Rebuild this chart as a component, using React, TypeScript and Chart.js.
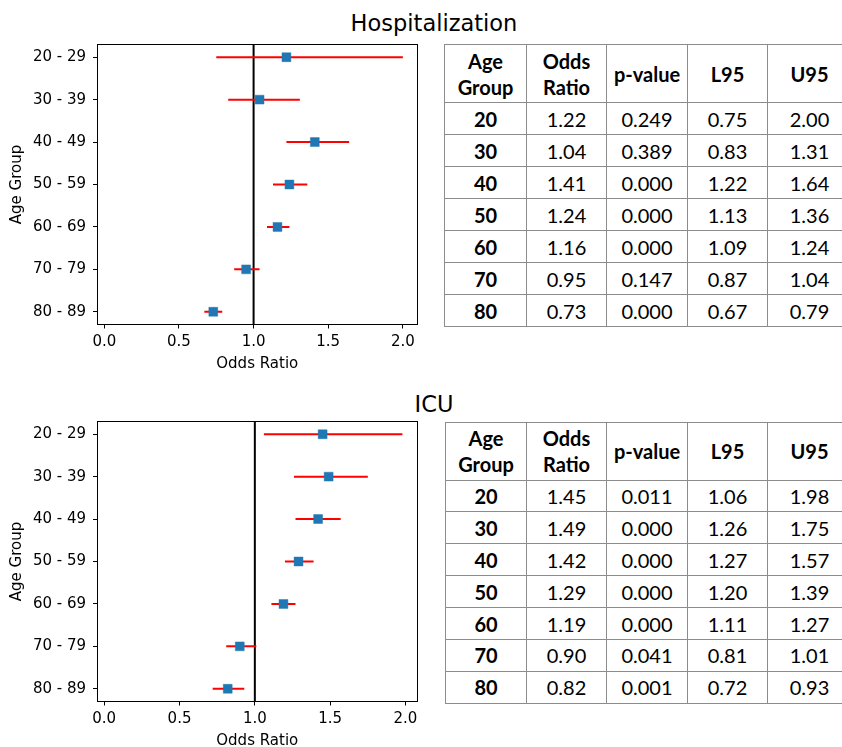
import React, { useEffect, useRef } from 'react';
import { Chart, registerables } from 'chart.js';

Chart.register(...registerables);

// ---- data ----
const ageLabels = ['20 - 29', '30 - 39', '40 - 49', '50 - 59', '60 - 69', '70 - 79', '80 - 89'];
const tableGroups = ['20', '30', '40', '50', '60', '70', '80'];
const tableHeaders = [['Age', 'Group'], ['Odds', 'Ratio'], ['p-value'], ['L95'], ['U95']];
const xTicks = [0, 0.5, 1.0, 1.5, 2.0];
const referenceOR = 1;

const hospOR = [1.22, 1.04, 1.41, 1.24, 1.16, 0.95, 0.73];
const hospP = [0.249, 0.389, 0.0, 0.0, 0.0, 0.147, 0.0];
const hospL95 = [0.75, 0.83, 1.22, 1.13, 1.09, 0.87, 0.67];
const hospU95 = [2.0, 1.31, 1.64, 1.36, 1.24, 1.04, 0.79];

const icuOR = [1.45, 1.49, 1.42, 1.29, 1.19, 0.9, 0.82];
const icuP = [0.011, 0.0, 0.0, 0.0, 0.0, 0.041, 0.001];
const icuL95 = [1.06, 1.26, 1.27, 1.2, 1.11, 0.81, 0.72];
const icuU95 = [1.98, 1.75, 1.57, 1.39, 1.27, 1.01, 0.93];

const tickFont = { family: 'DejaVu Sans', size: 15 };

const framePlugin = {
  id: 'frame',
  afterDraw(chart: any) {
    const { ctx, chartArea: a } = chart;
    ctx.save();
    ctx.strokeStyle = '#000';
    ctx.lineWidth = 1;
    const l = Math.floor(a.left) + 0.5;
    const t = Math.floor(a.top) + 0.5;
    const r = Math.floor(a.right) + 0.5;
    const b = Math.floor(a.bottom) + 0.5;
    ctx.strokeRect(l, t, r - l, b - t);
    ctx.restore();
  },
};

function ForestChart(props: { or: number[]; l95: number[]; u95: number[]; xMin: number; xMax: number }) {
  const ref = useRef<HTMLCanvasElement>(null);
  useEffect(() => {
    const { or, l95, u95, xMin, xMax } = props;
    const n = ageLabels.length;
    const yMin = -0.3;
    const yMax = n - 1 + 0.3;
    const datasets: any[] = [];
    datasets.push({
      data: [{ x: referenceOR, y: yMin }, { x: referenceOR, y: yMax }],
      showLine: true,
      borderColor: '#000',
      borderWidth: 2,
      pointRadius: 0,
      order: 3,
    });
    or.forEach((_, i) => {
      datasets.push({
        data: [{ x: l95[i], y: i }, { x: u95[i], y: i }],
        showLine: true,
        borderColor: '#ff0000',
        borderWidth: 2,
        pointRadius: 0,
        order: 2,
      });
    });
    datasets.push({
      data: or.map((v, i) => ({ x: v, y: i })),
      pointStyle: 'rect',
      pointRadius: 6.3,
      backgroundColor: '#1f77b4',
      borderColor: 'rgba(31,119,180,0.45)',
      borderWidth: 1,
      order: 0,
    });
    const chart = new Chart(ref.current!, {
      type: 'scatter',
      data: { datasets },
      plugins: [framePlugin],
      options: {
        responsive: false,
        animation: false,
        events: [],
        layout: { padding: { top: 44.5, right: 12.5, left: 0, bottom: 0 } },
        plugins: { legend: { display: false }, tooltip: { enabled: false } },
        scales: {
          x: {
            type: 'linear',
            min: xMin,
            max: xMax,
            afterFit: (s: any) => {
              s.height = 55.5;
            },
            afterBuildTicks: (s: any) => {
              s.ticks = xTicks.map((v) => ({ value: v }));
            },
            ticks: {
              callback: (v: any) => Number(v).toFixed(1),
              font: tickFont,
              color: '#000',
              padding: 5,
              maxRotation: 0,
              autoSkip: false,
            },
            grid: { display: true, drawOnChartArea: false, drawTicks: true, tickLength: 4, color: '#000', tickWidth: 1 },
            border: { display: false },
            title: { display: true, text: 'Odds Ratio', font: tickFont, color: '#000', padding: { top: 0, bottom: 7 } },
          },
          y: {
            type: 'linear',
            reverse: true,
            min: yMin,
            max: yMax,
            afterFit: (s: any) => {
              s.width = 97;
            },
            afterBuildTicks: (s: any) => {
              s.ticks = ageLabels.map((_, i) => ({ value: i }));
            },
            ticks: {
              callback: (v: any) => ageLabels[Math.round(Number(v))] ?? '',
              font: tickFont,
              color: '#000',
              padding: 7,
              autoSkip: false,
            },
            grid: { display: true, drawOnChartArea: false, drawTicks: true, tickLength: 4, color: '#000', tickWidth: 1 },
            border: { display: false },
            title: { display: true, text: 'Age Group', font: tickFont, color: '#000', padding: { top: 8, bottom: 0 } },
          },
        },
      } as any,
    });
    return () => chart.destroy();
  }, []);
  return <canvas ref={ref} width={430} height={380} style={{ display: 'block' }} />;
}

function StatsTable(props: {
  left: number;
  top: number;
  colWidths: number[];
  headerH: number;
  rowH: number;
  or: number[];
  p: number[];
  l95: number[];
  u95: number[];
}) {
  const { left, top, colWidths, headerH, rowH, or, p, l95, u95 } = props;
  const cell: React.CSSProperties = {
    border: '1px solid #8c8c8c',
    padding: 0,
    textAlign: 'center',
    verticalAlign: 'middle',
    lineHeight: '26px',
    overflow: 'hidden',
    whiteSpace: 'nowrap',
  };
  const total = colWidths.reduce((a, b) => a + b, 0);
  return (
    <table
      style={{
        position: 'absolute',
        left,
        top,
        width: total,
        borderCollapse: 'collapse',
        tableLayout: 'fixed',
        fontFamily: 'Lato, "Open Sans", sans-serif',
        fontSize: 20,
        color: '#000',
      }}
    >
      <colgroup>
        {colWidths.map((w, i) => (
          <col key={i} style={{ width: w }} />
        ))}
      </colgroup>
      <tbody>
        <tr style={{ height: headerH }}>
          {tableHeaders.map((h, i) => (
            <td key={i} style={{ ...cell, fontWeight: 700 }}>
              {h.map((line, j) => (
                <div key={j}>{line}</div>
              ))}
            </td>
          ))}
        </tr>
        {tableGroups.map((g, i) => (
          <tr key={g} style={{ height: rowH }}>
            <td style={{ ...cell, fontWeight: 700 }}>{g}</td>
            <td style={cell}>{or[i].toFixed(2)}</td>
            <td style={cell}>{p[i].toFixed(3)}</td>
            <td style={cell}>{l95[i].toFixed(2)}</td>
            <td style={cell}>{u95[i].toFixed(2)}</td>
          </tr>
        ))}
      </tbody>
    </table>
  );
}

const titleStyle: React.CSSProperties = {
  position: 'absolute',
  left: 434,
  transform: 'translateX(-50%)',
  fontFamily: 'DejaVu Sans',
  fontSize: 22.5,
  lineHeight: 1,
  color: '#000',
  whiteSpace: 'nowrap',
};

export default function App() {
  return (
    <div
      style={{
        position: 'absolute',
        left: 0,
        top: 0,
        width: 842,
        height: 747,
        overflow: 'hidden',
        background: '#fff',
      }}
    >
      <div style={{ ...titleStyle, top: 11.7 }}>Hospitalization</div>
      <div style={{ position: 'absolute', left: 0, top: 0 }}>
        <ForestChart or={hospOR} l95={hospL95} u95={hospU95} xMin={-0.049} xMax={2.098} />
      </div>
      <StatsTable
        left={444}
        top={44}
        colWidths={[82, 80, 81, 80, 84]}
        headerH={58}
        rowH={32}
        or={hospOR}
        p={hospP}
        l95={hospL95}
        u95={hospU95}
      />

      <div style={{ ...titleStyle, top: 392.7 }}>ICU</div>
      <div style={{ position: 'absolute', left: 0, top: 377.2 }}>
        <ForestChart or={icuOR} l95={icuL95} u95={icuU95} xMin={-0.048} xMax={2.08} />
      </div>
      <StatsTable
        left={445}
        top={422}
        colWidths={[81, 80, 81, 80, 84]}
        headerH={57.5}
        rowH={31.9}
        or={icuOR}
        p={icuP}
        l95={icuL95}
        u95={icuU95}
      />
    </div>
  );
}
